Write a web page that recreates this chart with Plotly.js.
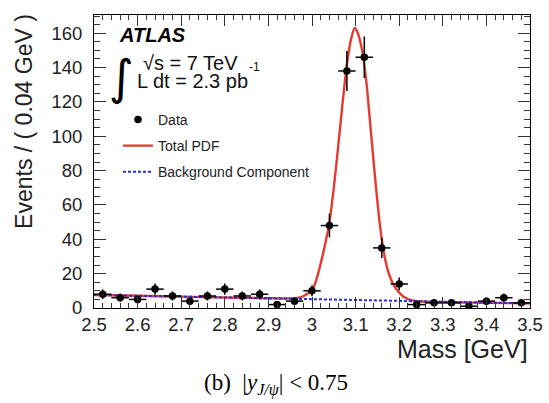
<!DOCTYPE html>
<html>
<head>
<meta charset="utf-8">
<script src="https://cdn.plot.ly/plotly-3.0.1.min.js"></script>
<style>html,body{margin:0;padding:0;background:#fff;}#chart{width:549px;height:403px;}</style>
</head>
<body>
<div id="chart"></div>
<script>
// Data points (bin centres, 0.04 GeV bins)
const massBins = [2.52, 2.56, 2.60, 2.64, 2.68, 2.72, 2.76, 2.80, 2.84, 2.88, 2.92, 2.96, 3.00,
                  3.04, 3.08, 3.12, 3.16, 3.20, 3.24, 3.28, 3.32, 3.36, 3.40, 3.44, 3.48];
const events = [8, 6, 5, 11, 7, 4, 7, 11, 7, 8, 2, 4, 10,
                48, 138, 146, 35, 14, 2, 3, 3, 1, 4, 6, 3];
const eventErr = [2.8, 2.4, 2.2, 3.3, 2.6, 2.0, 2.6, 3.3, 2.6, 2.8, 1.4, 2.0, 3.2,
                  6.9, 11.7, 12.1, 5.9, 3.7, 1.4, 1.7, 1.7, 1.0, 2.0, 2.4, 1.7];
const binHalfWidth = 0.02;

// Total PDF curve
const pdfMass = [2.50, 2.60, 2.70, 2.80, 2.90, 2.95, 2.975, 3.00, 3.01, 3.02, 3.03, 3.04, 3.05,
                 3.06, 3.07, 3.08, 3.09, 3.098, 3.105, 3.115, 3.125, 3.135, 3.145, 3.155,
                 3.165, 3.175, 3.185, 3.195, 3.21, 3.23, 3.26, 3.30, 3.40, 3.50];
const pdfValue = [7.6, 7.1, 6.6, 6.1, 5.7, 5.6, 6.3, 10.3, 16.5, 26, 37, 50, 70,
                  94, 119, 142, 157, 163, 160, 150, 131, 103, 75, 50,
                  32, 21, 14.5, 10.5, 6.6, 4.4, 3.6, 3.4, 3.0, 2.7];

// Background component (linear)
const bkgMass = [2.50, 3.50];
const bkgValue = [7.6, 2.7];

const xTickVals = [2.5, 2.6, 2.7, 2.8, 2.9, 3.0, 3.1, 3.2, 3.3, 3.4, 3.5];
const xTickText = ["2.5", "2.6", "2.7", "2.8", "2.9", "3", "3.1", "3.2", "3.3", "3.4", "3.5"];
const yTickVals = [0, 20, 40, 60, 80, 100, 120, 140, 160];

const font = "Liberation Sans, Arial, sans-serif";

const traces = [
  {
    x: pdfMass, y: pdfValue, type: "scatter", mode: "lines", name: "Total PDF",
    line: {color: "#e53a30", width: 2.4, shape: "spline", smoothing: 0.6},
    legendrank: 2, legendgroup: "b"
  },
  {
    x: bkgMass, y: bkgValue, type: "scatter", mode: "lines", name: "Background Component",
    line: {color: "#2a2ae0", width: 2, dash: "3px,2px"},
    legendrank: 3, legendgroup: "c"
  },
  {
    x: massBins, y: events, type: "scatter", mode: "markers", name: "Data",
    marker: {color: "black", size: 7.5},
    error_y: {type: "data", array: eventErr, color: "black", thickness: 1.5, width: 0},
    error_x: {type: "constant", value: binHalfWidth, color: "black", thickness: 1.5, width: 0},
    legendrank: 1, legendgroup: "a"
  }
];

const layout = {
  width: 549, height: 403,
  margin: {l: 94, r: 19, t: 15, b: 95, pad: 0},
  paper_bgcolor: "white", plot_bgcolor: "white",
  font: {family: font, color: "black", size: 18},
  showlegend: true,
  legend: {
    x: 0.055, y: 0.697, xanchor: "left", yanchor: "top",
    bgcolor: "rgba(0,0,0,0)", font: {size: 14, family: font, color: "#222"},
    tracegroupgap: 5, itemwidth: 30
  },
  xaxis: {
    range: [2.5, 3.5], tickvals: xTickVals, ticktext: xTickText,
    ticks: "inside", ticklen: 11, tickwidth: 1, tickcolor: "#333",
    showline: true, linecolor: "black", linewidth: 1, mirror: "ticks",
    showgrid: false, zeroline: false,
    tickfont: {size: 18.5, family: font, color: "#222"},
    minor: {dtick: 0.02, ticks: "inside", ticklen: 5, tickcolor: "#333", showgrid: false}
  },
  yaxis: {
    range: [0, 170.6], tickvals: yTickVals,
    ticks: "inside", ticklen: 12, tickwidth: 1, tickcolor: "#333",
    showline: true, linecolor: "black", linewidth: 1, mirror: "ticks",
    showgrid: false, zeroline: false,
    tickfont: {size: 18.5, family: font, color: "#222"}, ticklabelstandoff: 7,
    minor: {dtick: 5, ticks: "inside", ticklen: 6, tickcolor: "#333", showgrid: false}
  },
  annotations: [
    {text: "Events / ( 0.04 GeV )", textangle: -90, xref: "paper", yref: "paper",
     x: -0.162, y: 1.01, xanchor: "center", yanchor: "top", showarrow: false,
     font: {size: 23, family: font, color: "#222"}},
    {text: "Mass [GeV]", xref: "paper", yref: "paper", x: 1.0, y: -0.14,
     xanchor: "right", yanchor: "middle", showarrow: false,
     font: {size: 25, family: font, color: "#222"}},
    {text: "<b><i>ATLAS</i></b>", xref: "paper", yref: "paper", x: 0.052, y: 0.932,
     xanchor: "left", yanchor: "middle", showarrow: false,
     font: {size: 20, family: font, color: "black"}},
    {text: "∫", xref: "paper", yref: "paper", x: 0.062, y: 0.79,
     xanchor: "center", yanchor: "middle", showarrow: false,
     font: {size: 48, family: "DejaVu Sans", color: "black"}},
    {text: "√s = 7 TeV", xref: "paper", yref: "paper", x: 0.108, y: 0.836,
     xanchor: "left", yanchor: "middle", showarrow: false,
     font: {size: 20, family: font, color: "#111"}},
    {text: "L dt = 2.3 pb", xref: "paper", yref: "paper", x: 0.094, y: 0.775,
     xanchor: "left", yanchor: "middle", showarrow: false,
     font: {size: 20, family: font, color: "#111"}},
    {text: "-1", xref: "paper", yref: "paper", x: 0.352, y: 0.822,
     xanchor: "left", yanchor: "middle", showarrow: false,
     font: {size: 12, family: font, color: "#111"}},
    {text: "(b)  |<i>y</i><sub><i>J/ψ</i></sub>| < 0.75", xref: "paper", yref: "paper",
     x: 0.418, y: -0.262, xanchor: "center", yanchor: "middle", showarrow: false,
     font: {size: 23, family: "Liberation Serif, Times New Roman, serif", color: "black"}}
  ]
};

Plotly.newPlot("chart", traces, layout, {displayModeBar: false, staticPlot: true});
</script>
</body>
</html>
